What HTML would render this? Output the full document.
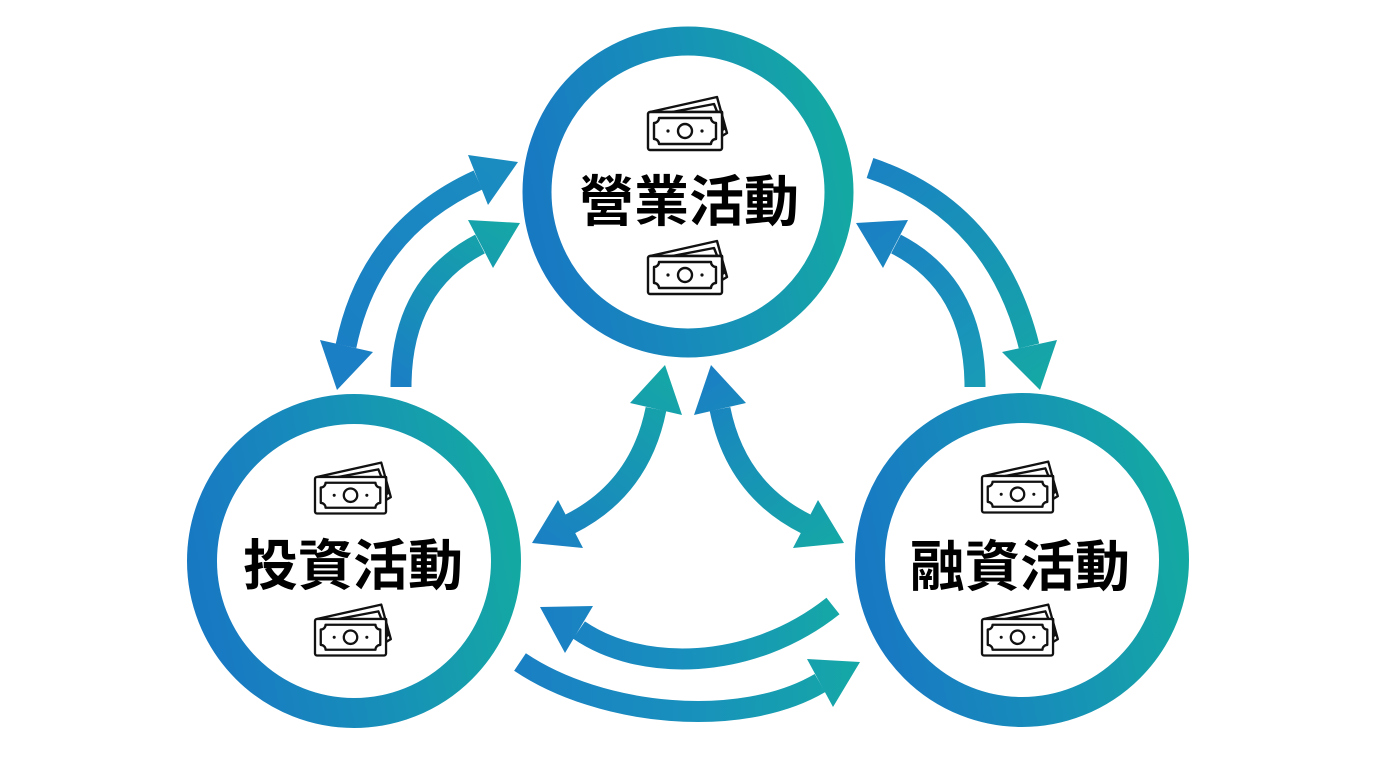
<!DOCTYPE html>
<html><head><meta charset="utf-8"><style>
html,body{margin:0;padding:0;background:#fff;}
svg{display:block;}
</style></head><body>
<svg width="1376" height="768" viewBox="0 0 1376 768" xmlns="http://www.w3.org/2000/svg">
<defs>
<linearGradient id="ring" x1="0" y1="0.6" x2="1" y2="0.4">
<stop offset="0" stop-color="#1879c3"/><stop offset="0.5" stop-color="#178fb9"/><stop offset="1" stop-color="#14a8a3"/>
</linearGradient>
<linearGradient id="g1" gradientUnits="userSpaceOnUse" x1="346" y1="346" x2="518" y2="162"><stop offset="0" stop-color="#1a7fc4"/><stop offset="1" stop-color="#1a8dc0"/></linearGradient>
<linearGradient id="g2" gradientUnits="userSpaceOnUse" x1="401" y1="386" x2="520" y2="223"><stop offset="0" stop-color="#1a7fc4"/><stop offset="1" stop-color="#15a8a6"/></linearGradient>
<linearGradient id="g3" gradientUnits="userSpaceOnUse" x1="870" y1="168" x2="1040" y2="390"><stop offset="0" stop-color="#1a82c3"/><stop offset="1" stop-color="#15a8a5"/></linearGradient>
<linearGradient id="g4" gradientUnits="userSpaceOnUse" x1="856" y1="223" x2="975" y2="386"><stop offset="0" stop-color="#1a7fc4"/><stop offset="1" stop-color="#199bb6"/></linearGradient>
<linearGradient id="g5" gradientUnits="userSpaceOnUse" x1="665" y1="365" x2="532" y2="543"><stop offset="0" stop-color="#15a8a6"/><stop offset="1" stop-color="#1a7fc4"/></linearGradient>
<linearGradient id="g6" gradientUnits="userSpaceOnUse" x1="711" y1="365" x2="844" y2="543"><stop offset="0" stop-color="#1a7fc4"/><stop offset="1" stop-color="#15a8a6"/></linearGradient>
<linearGradient id="g7" gradientUnits="userSpaceOnUse" x1="540" y1="607" x2="838" y2="607"><stop offset="0" stop-color="#1a7fc4"/><stop offset="0.5" stop-color="#1890bd"/><stop offset="1" stop-color="#15a8a6"/></linearGradient>
<linearGradient id="g8" gradientUnits="userSpaceOnUse" x1="515" y1="662" x2="860" y2="662"><stop offset="0" stop-color="#1a7fc4"/><stop offset="0.5" stop-color="#1890bd"/><stop offset="1" stop-color="#15a8a6"/></linearGradient>
<g id="bill" fill="#fff" stroke="#111" stroke-width="2.4" stroke-linejoin="round">
<polygon points="2,0 69,-15 79,21 74,24 74,0"/>
<polygon points="24,0 66,-8 76,17 74,18 74,0"/>
<rect x="0" y="0" width="74" height="38" rx="2"/>
<path d="M11,6 H63 A5,5 0 0 0 68,11 V27 A5,5 0 0 0 63,32 H11 A5,5 0 0 0 6,27 V11 A5,5 0 0 0 11,6 Z"/>
<circle cx="37" cy="19" r="7"/>
<circle cx="20" cy="19" r="1.6" fill="#111" stroke="none"/>
<circle cx="54" cy="19" r="1.6" fill="#111" stroke="none"/>
</g>
</defs>

<!-- arrows -->
<g fill="none" stroke-width="21" stroke-linecap="butt">
<path d="M478,180 Q370,229 346,346" stroke="url(#g1)"/>
<path d="M401,387 Q401,285 480,244" stroke="url(#g2)"/>
<path d="M870,168 Q995,210 1029,346" stroke="url(#g3)"/>
<path d="M975,387 Q975,285 896,244" stroke="url(#g4)"/>
<path d="M656,409 Q640,489 570,524" stroke="url(#g5)"/>
<path d="M720,409 Q736,489 806,524" stroke="url(#g6)"/>
<path d="M579,630 C640,672 750,672 833,606" stroke="url(#g7)"/>
<path d="M520,662 C600,716 740,730 820,683" stroke="url(#g8)"/>
</g>
<polygon points="518,162 468,155 488,205" fill="url(#g1)"/>
<polygon points="337,390 320,340 373,352" fill="url(#g1)"/>
<polygon points="520,223 468,220 493,268" fill="url(#g2)"/>
<polygon points="1040,390 1002,352 1057,340" fill="url(#g3)"/>
<polygon points="856,223 908,220 883,268" fill="url(#g4)"/>
<polygon points="665,365 630,403 682,415" fill="url(#g5)"/>
<polygon points="532,543 558,500 583,548" fill="url(#g5)"/>
<polygon points="711,365 746,403 694,415" fill="url(#g6)"/>
<polygon points="844,543 818,500 793,548" fill="url(#g6)"/>
<polygon points="540,607 593,606 565,653" fill="url(#g7)"/>
<polygon points="860,662 807,659 833,707" fill="url(#g8)"/>

<!-- circles -->
<circle cx="688" cy="192" r="151" fill="#fff" stroke="url(#ring)" stroke-width="29"/>
<circle cx="354" cy="561" r="152" fill="#fff" stroke="url(#ring)" stroke-width="30"/>
<circle cx="1022" cy="560" r="152" fill="#fff" stroke="url(#ring)" stroke-width="30"/>

<!-- icons -->
<use href="#bill" transform="translate(648,112)"/>
<use href="#bill" transform="translate(648,256)"/>
<use href="#bill" transform="translate(315,477) scale(0.96)"/>
<use href="#bill" transform="translate(315,619) scale(0.96)"/>
<use href="#bill" transform="translate(982,476) scale(0.96)"/>
<use href="#bill" transform="translate(982,619) scale(0.96)"/>

<!-- labels -->
<g font-family="'Liberation Sans','Noto Sans CJK TC','Noto Sans CJK JP',sans-serif" font-weight="700" font-size="55" fill="#000" text-anchor="middle">
<text x="689" y="221">營業活動</text>
<text x="353" y="585">投資活動</text>
<text x="1020" y="586">融資活動</text>
</g>
</svg>
</body></html>
